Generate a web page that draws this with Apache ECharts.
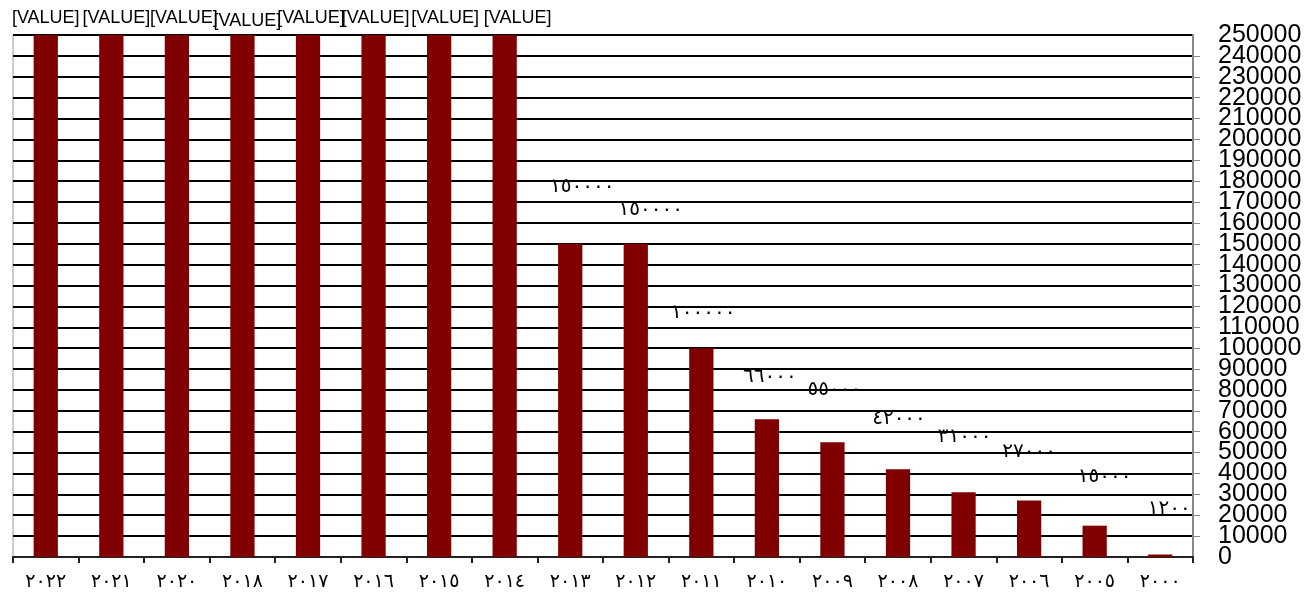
<!DOCTYPE html>
<html><head><meta charset="utf-8">
<script src="https://cdn.jsdelivr.net/npm/echarts@6/dist/echarts.min.js"></script>
<style>html,body{margin:0;padding:0;background:#fff}#c{width:1316px;height:598px}</style>
</head><body><div id="c"></div>
<script>
var categories = ['٢٠٢٢','٢٠٢١','٢٠٢٠','٢٠١٨','٢٠١٧','٢٠١٦','٢٠١٥','٢٠١٤','٢٠١٣','٢٠١٢','٢٠١١','٢٠١٠','٢٠٠٩','٢٠٠٨','٢٠٠٧','٢٠٠٦','٢٠٠٥','٢٠٠٠'];
var values = [250000,250000,250000,250000,250000,250000,250000,250000,150000,150000,100000,66000,55000,42000,31000,27000,15000,1200];
var labelTexts = ['[VALUE]','[VALUE]','[VALUE]','[VALUE]','[VALUE]','[VALUE]','[VALUE]','[VALUE]','١٥٠٠٠٠','١٥٠٠٠٠','١٠٠٠٠٠','٦٦٠٠٠','٥٥٠٠٠','٤٢٠٠٠','٣١٠٠٠','٢٧٠٠٠','١٥٠٠٠','١٢٠٠'];
var labelOffsets = [[0,-3],[5,-3],[7,-3],[5,0],[3,-3],[2,-3],[6,-3],[13,-3],[12,-42],[15,-19],[2,-20],[3,-27],[2,-37],[1,-36],[1,-40],[0,-34],[10,-34],[9,-31]];
var yMin = 0, yMax = 250000, yStep = 10000;

var labelStyle = {color:'#000',fontSize:25,fontFamily:'Liberation Sans',margin:25,hideOverlap:false};
var chart = echarts.init(document.getElementById('c'));
chart.setOption({
  animation:false,
  grid:{left:13,right:123,top:35,bottom:41,show:true,borderColor:'#999',borderWidth:1,backgroundColor:'transparent'},
  xAxis:{type:'category',data:categories,
    axisLine:{lineStyle:{color:'#222',width:2}},
    axisTick:{show:true,alignWithLabel:false,length:6,lineStyle:{color:'#222',width:2}},
    axisLabel:{color:'#000',fontSize:19,fontFamily:'DejaVu Sans',margin:16,interval:0}},
  yAxis:[{type:'value',position:'right',min:yMin,max:yMax,interval:yStep,
    axisLine:{show:true,lineStyle:{color:'#888',width:2}},
    axisTick:{show:true,inside:false,length:7,lineStyle:{color:'#888',width:1}},
    splitLine:{lineStyle:{color:'#000',width:2}},
    axisLabel:Object.assign({showMinLabel:false,showMaxLabel:false,
      formatter:function(v){return String(v);}},labelStyle)},
   {type:'value',position:'right',min:yMin,max:yMax,interval:yStep,
    axisLine:{show:false},axisTick:{show:false},splitLine:{show:false},
    axisLabel:Object.assign({showMinLabel:true,showMaxLabel:true,
      formatter:function(v){return (v===yMin||v===yMax)?String(v):'';}},labelStyle)}],
  series:[{type:'bar',barCategoryGap:'63%',yAxisIndex:0,
    itemStyle:{color:'#800000'},
    data:values.map(function(v,i){return {value:v,label:{offset:labelOffsets[i],
      fontSize:i<8?18:20,fontFamily:i<8?'Liberation Sans':'DejaVu Sans'}};}),
    label:{show:true,position:'top',color:'#000',
      formatter:function(p){return labelTexts[p.dataIndex];}}
  }]
});
</script></body></html>
